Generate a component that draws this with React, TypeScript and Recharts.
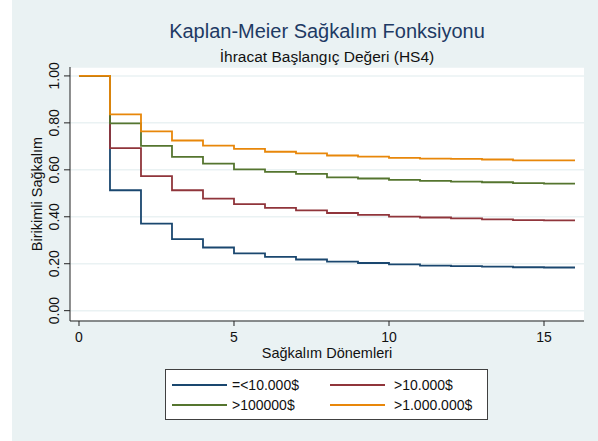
import React from 'react';
import { LineChart, Line, XAxis, YAxis, CartesianGrid, Legend } from 'recharts';

// survival periods and Kaplan-Meier estimates
const periods = [0, 1, 2, 3, 4, 5, 6, 7, 8, 9, 10, 11, 12, 13, 14, 15, 16];
const under10k = [1.0, 0.513, 0.371, 0.305, 0.269, 0.244, 0.229, 0.218, 0.209, 0.203, 0.197, 0.192, 0.19, 0.188, 0.185, 0.184, 0.184];
const over10k = [1.0, 0.692, 0.573, 0.513, 0.477, 0.454, 0.438, 0.427, 0.416, 0.408, 0.401, 0.397, 0.393, 0.389, 0.386, 0.385, 0.385];
const over100k = [1.0, 0.798, 0.702, 0.655, 0.626, 0.602, 0.591, 0.583, 0.568, 0.563, 0.557, 0.553, 0.55, 0.547, 0.543, 0.541, 0.541];
const over1m = [1.0, 0.836, 0.764, 0.725, 0.703, 0.689, 0.677, 0.67, 0.661, 0.656, 0.651, 0.648, 0.647, 0.644, 0.64, 0.64, 0.64];

const seriesNames = ['=<10.000$', '>10.000$', '>100000$', '>1.000.000$'];
const xTicks = [0, 5, 10, 15];
const yTicks = [0, 0.2, 0.4, 0.6, 0.8, 1.0];

const colors = ['#1A476F', '#90353B', '#55752F', '#E8870A'];
const FONT = '"Liberation Sans", Arial, sans-serif';
const BG = '#EAF2F3';

const data = periods.map((t, i) => ({
  t,
  s0: under10k[i],
  s1: over10k[i],
  s2: over100k[i],
  s3: over1m[i],
}));

const YTick = ({ y, payload }: any) => (
  <text
    x={0}
    y={0}
    transform={`translate(59,${y}) rotate(-90)`}
    textAnchor="middle"
    fontSize={14}
    fontFamily={FONT}
    fill="#111"
  >
    {Number(payload.value).toFixed(2)}
  </text>
);

const LegendBox = ({ payload }: any) => {
  // keep the legend in the series order: row 1 = first two, row 2 = last two
  const items = [...(payload || [])].sort(
    (a: any, b: any) => seriesNames.indexOf(a.value) - seriesNames.indexOf(b.value)
  );
  return (
    <div
      style={{
        position: 'relative',
        width: 321,
        height: 49,
        background: '#fff',
        border: '1px solid #404040',
        fontFamily: FONT,
        fontSize: 14,
        color: '#111',
      }}
    >
      {items.map((entry: any, index: number) => {
        const col = index % 2;
        const row = Math.floor(index / 2);
        const left = col === 0 ? 6 : 164;
        const top = row === 0 ? 15 : 35;
        return (
          <div key={index}>
            <div
              style={{
                position: 'absolute',
                left,
                top: top - 1,
                width: 55,
                height: 2,
                background: entry.color,
              }}
            />
            <div
              style={{
                position: 'absolute',
                left: left + (col === 0 ? 60 : 64),
                top: top - 8,
                lineHeight: '16px',
                whiteSpace: 'nowrap',
              }}
            >
              {entry.value}
            </div>
          </div>
        );
      })}
    </div>
  );
};

export default function App() {
  return (
    <div
      style={{
        position: 'absolute',
        left: 0,
        top: 0,
        width: 598,
        height: 441,
        background: '#fff',
        fontFamily: FONT,
      }}
    >
      <div style={{ position: 'absolute', left: 12, top: 0, width: 586, height: 441, background: BG }} />

      <div
        style={{
          position: 'absolute',
          left: 70,
          width: 514,
          top: 20.5,
          fontSize: 20,
          lineHeight: '20px',
          textAlign: 'center',
          color: '#1E3A64',
        }}
      >
        Kaplan-Meier Sağkalım Fonksiyonu
      </div>
      <div
        style={{
          position: 'absolute',
          left: 70,
          width: 514,
          top: 49,
          fontSize: 15.5,
          lineHeight: '15.5px',
          textAlign: 'center',
          color: '#111',
        }}
      >
        İhracat Başlangıç Değeri (HS4)
      </div>

      <div style={{ position: 'absolute', left: 0, top: 0 }}>
        <LineChart
          width={598}
          height={441}
          data={data}
          margin={{ top: 67, right: 14, bottom: 90, left: 30 }}
        >
          <CartesianGrid vertical={false} stroke={BG} strokeWidth={1.5} fill="#fff" />
          <XAxis
            dataKey="t"
            type="number"
            domain={[-0.29, 16.29]}
            ticks={xTicks}
            allowDataOverflow
            height={30}
            axisLine={{ stroke: '#222' }}
            tickLine={{ stroke: '#222' }}
            tickSize={5}
            tickMargin={6}
            tick={{ fontSize: 14, fontFamily: FONT, fill: '#111' }}
          />
          <YAxis
            type="number"
            domain={[-0.044, 1.038]}
            ticks={yTicks}
            allowDataOverflow
            width={40}
            axisLine={{ stroke: '#222' }}
            tickLine={{ stroke: '#222' }}
            tickSize={6}
            tick={<YTick />}
          />
          <Legend
            layout="horizontal"
            verticalAlign="middle"
            align="center"
            content={<LegendBox />}
            wrapperStyle={{ position: 'absolute', left: 165, top: 369, width: 323, height: 51 }}
          />
          {['s0', 's1', 's2', 's3'].map((key, i) => (
            <Line
              key={key}
              type="stepAfter"
              dataKey={key}
              name={seriesNames[i]}
              stroke={colors[i]}
              strokeWidth={1.8}
              dot={false}
              activeDot={false}
              isAnimationActive={false}
            />
          ))}
        </LineChart>
      </div>

      <div
        style={{
          position: 'absolute',
          left: 70,
          width: 514,
          top: 346,
          fontSize: 14.5,
          lineHeight: '14.5px',
          textAlign: 'center',
          color: '#111',
        }}
      >
        Sağkalım Dönemleri
      </div>
      <div
        style={{
          position: 'absolute',
          left: 37 - 100,
          width: 200,
          top: 194 - 7,
          fontSize: 14.5,
          lineHeight: '14.5px',
          textAlign: 'center',
          color: '#111',
          transform: 'rotate(-90deg)',
          transformOrigin: '100px 7px',
          whiteSpace: 'nowrap',
        }}
      >
        Birikimli Sağkalım
      </div>
    </div>
  );
}
